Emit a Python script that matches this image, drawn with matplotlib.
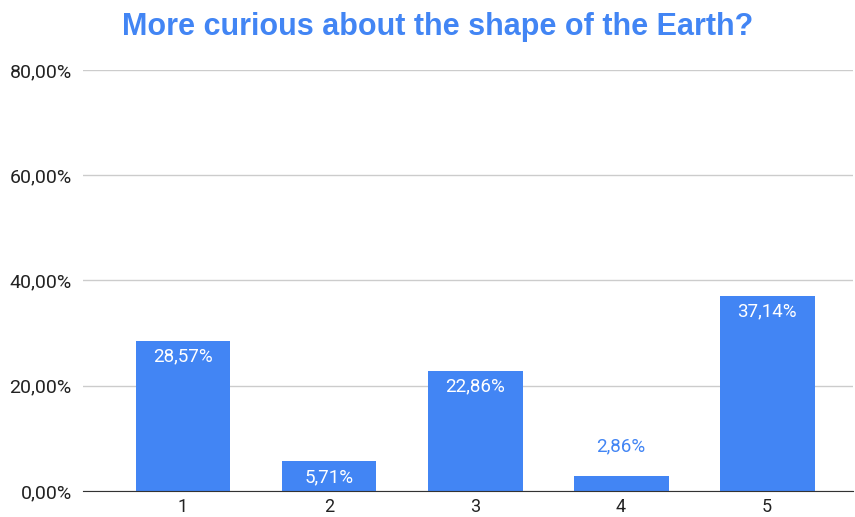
import matplotlib.pyplot as plt
from matplotlib.ticker import FuncFormatter

# data
categories = ['1', '2', '3', '4', '5']
values = [28.57, 5.71, 22.86, 2.86, 37.14]
yticks = [0, 20, 40, 60, 80]

blue = '#4285F4'

fig = plt.figure(figsize=(8.55, 5.17), dpi=100)
ax = fig.add_axes([0.097, 0.0503, 0.901, 0.8143])

x = list(range(1, len(values) + 1))
ax.bar(x, values, width=0.65, color=blue, zorder=3)

def pct(v, pos=None):
    return f'{v:.2f}'.replace('.', ',') + '%'

for xi, v in zip(x, values):
    label = pct(v)
    if v > 5:
        ax.annotate(label, (xi, v), xytext=(0, -5), textcoords='offset points',
                    ha='center', va='top', color='white', fontsize=13.5, family='Roboto')
    else:
        ax.annotate(label, (xi, v), xytext=(0, 15), textcoords='offset points',
                    ha='center', va='bottom', color=blue, fontsize=13.5, family='Roboto')

ax.set_xlim(0.315, 5.59)
ax.set_ylim(0, 80)
ax.set_xticks(x)
ax.set_xticklabels(categories, family='Roboto', fontsize=13)
ax.set_yticks(yticks)
ax.yaxis.set_major_formatter(FuncFormatter(pct))
for lab in ax.get_yticklabels():
    lab.set_family('Roboto')
    lab.set_fontsize(14)

ax.tick_params(axis='both', length=0, colors='#222222')
ax.tick_params(axis='y', pad=8)
ax.tick_params(axis='x', pad=5)
ax.grid(axis='y', color='#cccccc', linewidth=1, zorder=0)
for side in ['top', 'right', 'left']:
    ax.spines[side].set_visible(False)
ax.spines['bottom'].set_color('#333333')
ax.spines['bottom'].set_zorder(4)

fig.text(0.512, 0.947, 'More curious about the shape of the Earth?', ha='center', va='center',
         fontsize=22, fontweight='bold', color=blue, family='Liberation Sans')

fig.savefig('out.png', dpi=100)
